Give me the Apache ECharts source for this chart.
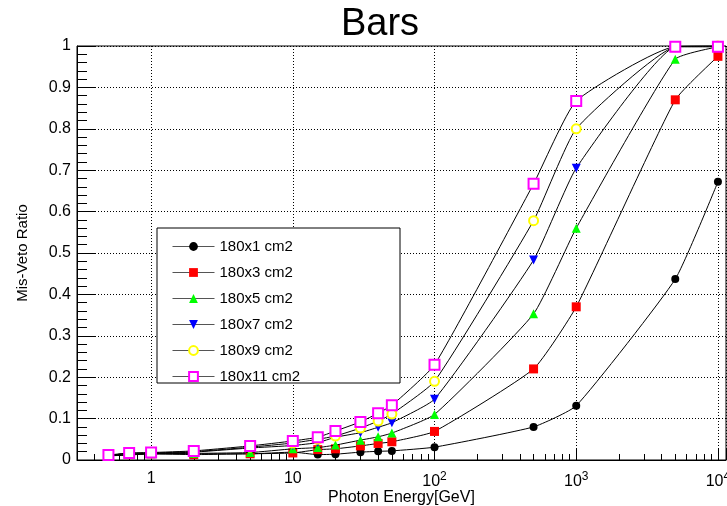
<!DOCTYPE html>
<html>
<head>
<meta charset="utf-8">
<script src="https://cdn.jsdelivr.net/npm/echarts@6/dist/echarts.min.js"></script>
<style>
html,body{margin:0;padding:0;background:#fff;}
#chart{width:727px;height:506px;}
</style>
</head>
<body>
<div id="chart"></div>
<script>
// ---- data ----
var energies = [0.5, 0.7, 1, 2, 5, 10, 15, 20, 30, 40, 50, 100, 500, 1000, 5000, 10000];
var seriesNames = ['180x1 cm2', '180x3 cm2', '180x5 cm2', '180x7 cm2', '180x9 cm2', '180x11 cm2'];
var bars1  = [0.010, 0.012, 0.015, 0.015, 0.015, 0.019, 0.013, 0.014, 0.019, 0.021, 0.022, 0.031, 0.080, 0.131, 0.437, 0.672];
var bars3  = [0.010, 0.013, 0.015, 0.013, 0.015, 0.017, 0.025, 0.027, 0.034, 0.040, 0.044, 0.069, 0.220, 0.370, 0.870, 0.975];
var bars5  = [0.010, 0.013, 0.015, 0.016, 0.018, 0.027, 0.030, 0.036, 0.048, 0.056, 0.065, 0.110, 0.353, 0.560, 0.968, 0.998];
var bars7  = [0.011, 0.016, 0.016, 0.019, 0.029, 0.035, 0.042, 0.055, 0.066, 0.079, 0.090, 0.147, 0.483, 0.705, 0.998, 1.000];
var bars9  = [0.011, 0.016, 0.017, 0.020, 0.031, 0.041, 0.050, 0.058, 0.077, 0.094, 0.111, 0.190, 0.578, 0.800, 0.998, 1.000];
var bars11 = [0.012, 0.017, 0.018, 0.022, 0.034, 0.046, 0.055, 0.070, 0.092, 0.113, 0.132, 0.230, 0.667, 0.867, 0.998, 0.998];
var yTickLabels = ['0', '0.1', '0.2', '0.3', '0.4', '0.5', '0.6', '0.7', '0.8', '0.9', '1'];

var allValues = [bars1, bars3, bars5, bars7, bars9, bars11];
var colors = ['#000000', '#ff0000', '#00ff00', '#0000ff', '#ffff00', '#ff00ff'];
var symbols = ['circle', 'rect', 'triangle', 'triangle', 'emptyCircle', 'emptyRect'];
var rotations = [0, 0, 0, 180, 0, 0];
var sizes = [8, 9, 9, 9, 9, 10];

var series = allValues.map(function (vals, i) {
  return {
    name: seriesNames[i],
    type: 'line',
    data: energies.map(function (e, j) { return [e, vals[j]]; }),
    symbol: symbols[i],
    symbolRotate: rotations[i],
    symbolSize: sizes[i],
    showAllSymbol: true,
    smooth: 0.15,
    lineStyle: { color: '#000', width: 1 },
    itemStyle: { color: colors[i], borderColor: colors[i], borderWidth: (i >= 4 ? 1.5 : 0) },
    emphasis: { disabled: true },
    animation: false,
    z: 2 + i
  };
});

var fontFam = '"Liberation Sans", Arial, sans-serif';
var chart = echarts.init(document.getElementById('chart'), null, { renderer: 'canvas' });
chart.setOption({
  backgroundColor: '#fff',
  animation: false,
  title: {
    text: 'Bars',
    left: 375,
    textAlign: 'center',
    top: 1,
    textStyle: { fontFamily: fontFam, fontSize: 38, fontWeight: 'normal', color: '#000' }
  },
  grid: { left: 77, right: 1, top: 46, bottom: 46, show: true, borderColor: '#000', borderWidth: 1, backgroundColor: 'transparent', outerBoundsMode: 'none', containLabel: false },
  legend: {
    orient: 'vertical',
    left: 167,
    top: 234,
    itemWidth: 42,
    itemHeight: 11,
    itemGap: 11,
    selectedMode: false,
    zlevel: 1,
    z: 10,
    lineStyle: { width: 1, color: '#555' },
    textStyle: { fontFamily: fontFam, fontSize: 15, color: '#000', lineHeight: 15 },
    data: seriesNames
  },
  graphic: [{
    type: 'rect',
    shape: { x: 157, y: 228, width: 243, height: 155 },
    style: { fill: '#fff', stroke: '#000', lineWidth: 1 },
    zlevel: 1,
    z: 0
  }],
  xAxis: {
    type: 'log',
    logBase: 10,
    min: 0.3,
    max: 11400,
    name: 'Photon Energy[GeV]',
    nameLocation: 'middle',
    nameGap: 30,
    nameMoveOverlap: false,
    nameTextStyle: { fontFamily: fontFam, fontSize: 16, color: '#000' },
    axisLine: { lineStyle: { color: '#000', width: 1 } },
    axisTick: { inside: true, length: 12, lineStyle: { color: '#000' } },
    minorTick: { show: true, splitNumber: 9, length: 6, lineStyle: { color: '#000' } },
    splitLine: { show: true, lineStyle: { color: '#000', type: [1, 2], width: 1 } },
    axisLabel: {
      showMinLabel: false,
      showMaxLabel: false,
      margin: 11,
      fontFamily: fontFam, fontSize: 16, color: '#000',
      formatter: function (v) {
        var p = Math.round(Math.log10(v));
        if (p === 0) return '1';
        if (p === 1) return '10';
        return '10{sup|' + p + '}';
      },
      rich: { sup: { fontFamily: fontFam, fontSize: 12, verticalAlign: 'top', padding: [0, 0, 10, 0], color: '#000' } }
    }
  },
  yAxis: {
    type: 'value',
    min: 0,
    max: 1,
    interval: 0.1,
    name: 'Mis-Veto Ratio',
    nameLocation: 'middle',
    nameGap: 47,
    nameMoveOverlap: false,
    nameTextStyle: { fontFamily: fontFam, fontSize: 15, color: '#000' },
    axisLine: { show: true, lineStyle: { color: '#000', width: 1 } },
    axisTick: { show: true, inside: true, length: 19, lineStyle: { color: '#000' } },
    minorTick: { show: true, splitNumber: 5, length: 10, lineStyle: { color: '#000' } },
    splitLine: { show: true, lineStyle: { color: '#000', type: [1, 2], width: 1 } },
    axisLabel: {
      margin: 6,
      fontFamily: fontFam, fontSize: 16, color: '#000',
      formatter: function (v) { return yTickLabels[Math.round(v * 10)]; }
    }
  },
  series: series
});
</script>
</body>
</html>
